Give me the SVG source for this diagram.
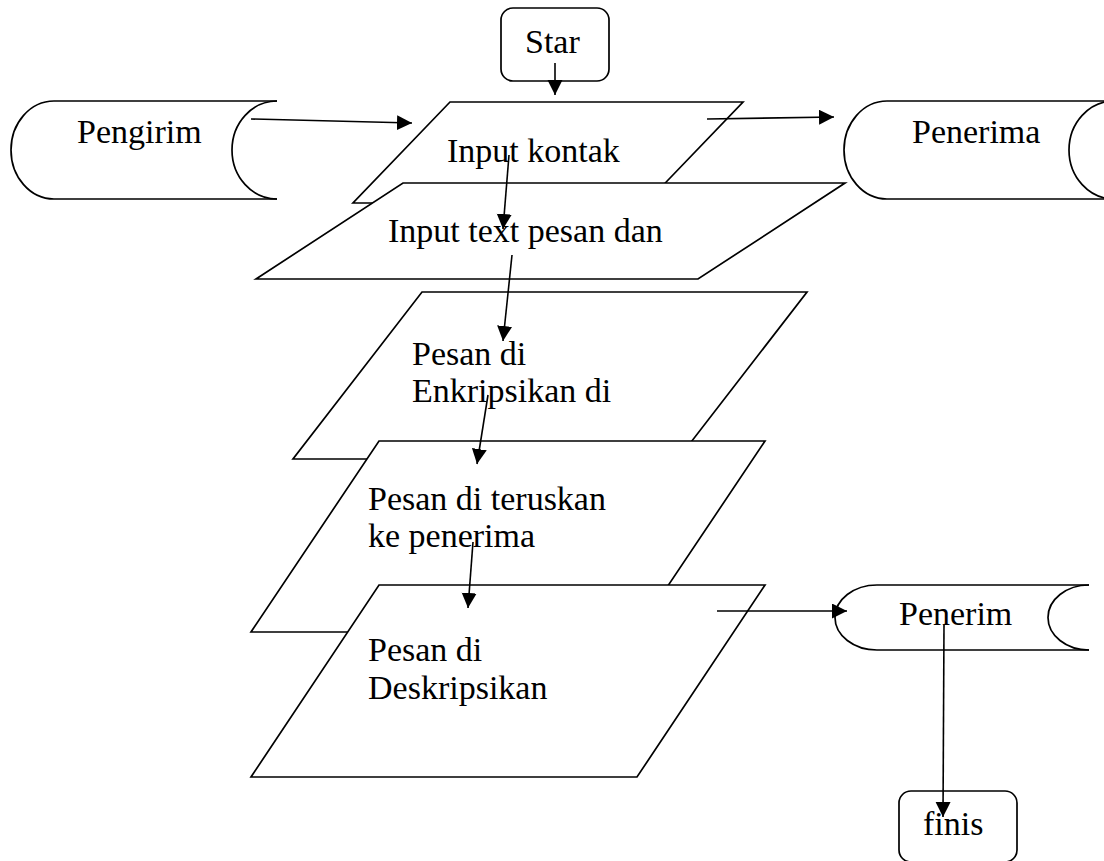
<svg xmlns="http://www.w3.org/2000/svg" width="1104" height="861" viewBox="0 0 1104 861">
<style>
.s{fill:#fff;stroke:#000;stroke-width:1.7;stroke-linejoin:miter}
.o{fill:none;stroke:#000;stroke-width:1.7}
.t{font-family:"Liberation Serif","Times New Roman",serif;font-size:34px;fill:#000}
.c{fill:none;stroke:#000;stroke-width:1.6;marker-end:url(#ah)}
</style>
<defs>
<marker id="ah" markerUnits="userSpaceOnUse" markerWidth="16" markerHeight="16" refX="15" refY="7.5" orient="auto">
<path d="M0,0 L15,7.5 L0,15 z" fill="#000"/>
</marker>
</defs>
<rect width="1104" height="861" fill="#fff"/>
<g id="star">
<rect class="s" x="501" y="8" width="108" height="73" rx="12"/>
<text class="t" x="525" y="53">Star</text>
</g>
<g id="pengirim">
<path class="s" d="M277,101 H54 A43,49 0 0 0 54,199 H277"/>
<path class="o" d="M277,101 A45,49 0 0 0 277,199"/>
<text class="t" x="77" y="143">Pengirim</text>
</g>
<g id="penerima">
<path class="s" d="M1114,101 H887 A43,49 0 0 0 887,199 H1114"/>
<path class="o" d="M1114,101 A45,49 0 0 0 1114,199"/>
<text class="t" x="912" y="143">Penerima</text>
</g>
<g id="input-kontak">
<polygon class="s" points="450,102 743,102 646,203 353,203"/>
<text class="t" x="447" y="162">Input kontak</text>
</g>
<g id="input-text">
<polygon class="s" points="403,183 845,183 698,279 256,279"/>
<text class="t" x="388" y="242">Input text pesan dan</text>
</g>
<g id="enkripsi">
<polygon class="s" points="422,292 807,292 678,459 293,459"/>
<text class="t" x="412" y="365">Pesan di</text>
<text class="t" x="412" y="402">Enkripsikan di</text>
</g>
<g id="teruskan">
<polygon class="s" points="379,441 765,441 637,632 251,632"/>
<text class="t" x="368" y="510">Pesan di teruskan</text>
<text class="t" x="368" y="547">ke penerima</text>
</g>
<g id="deskripsi">
<polygon class="s" points="379,585 765,585 637,777 251,777"/>
<text class="t" x="368" y="661">Pesan di</text>
<text class="t" x="368" y="699">Deskripsikan</text>
</g>
<g id="penerim">
<path class="s" d="M1089,585 H877 A42,32.5 0 0 0 877,650 H1089"/>
<path class="o" d="M1089,585 A41,32.5 0 0 0 1089,650"/>
<text class="t" x="899" y="625">Penerim</text>
</g>
<g id="finis">
<rect class="s" x="899" y="791" width="118" height="71" rx="12"/>
<text class="t" x="923" y="835">finis</text>
</g>
<g id="connectors">
<line class="c" x1="555" y1="63" x2="555" y2="95"/>
<line class="c" x1="251" y1="119" x2="412" y2="123"/>
<line class="c" x1="707" y1="119" x2="834" y2="117"/>
<line class="c" x1="509" y1="155" x2="503" y2="229"/>
<line class="c" x1="512" y1="255" x2="503" y2="341"/>
<line class="c" x1="488" y1="395" x2="477" y2="464"/>
<line class="c" x1="473" y1="542" x2="468" y2="608"/>
<line class="c" x1="717" y1="611" x2="847" y2="611"/>
<line class="c" x1="944" y1="625" x2="943" y2="817"/>
</g>
</svg>
